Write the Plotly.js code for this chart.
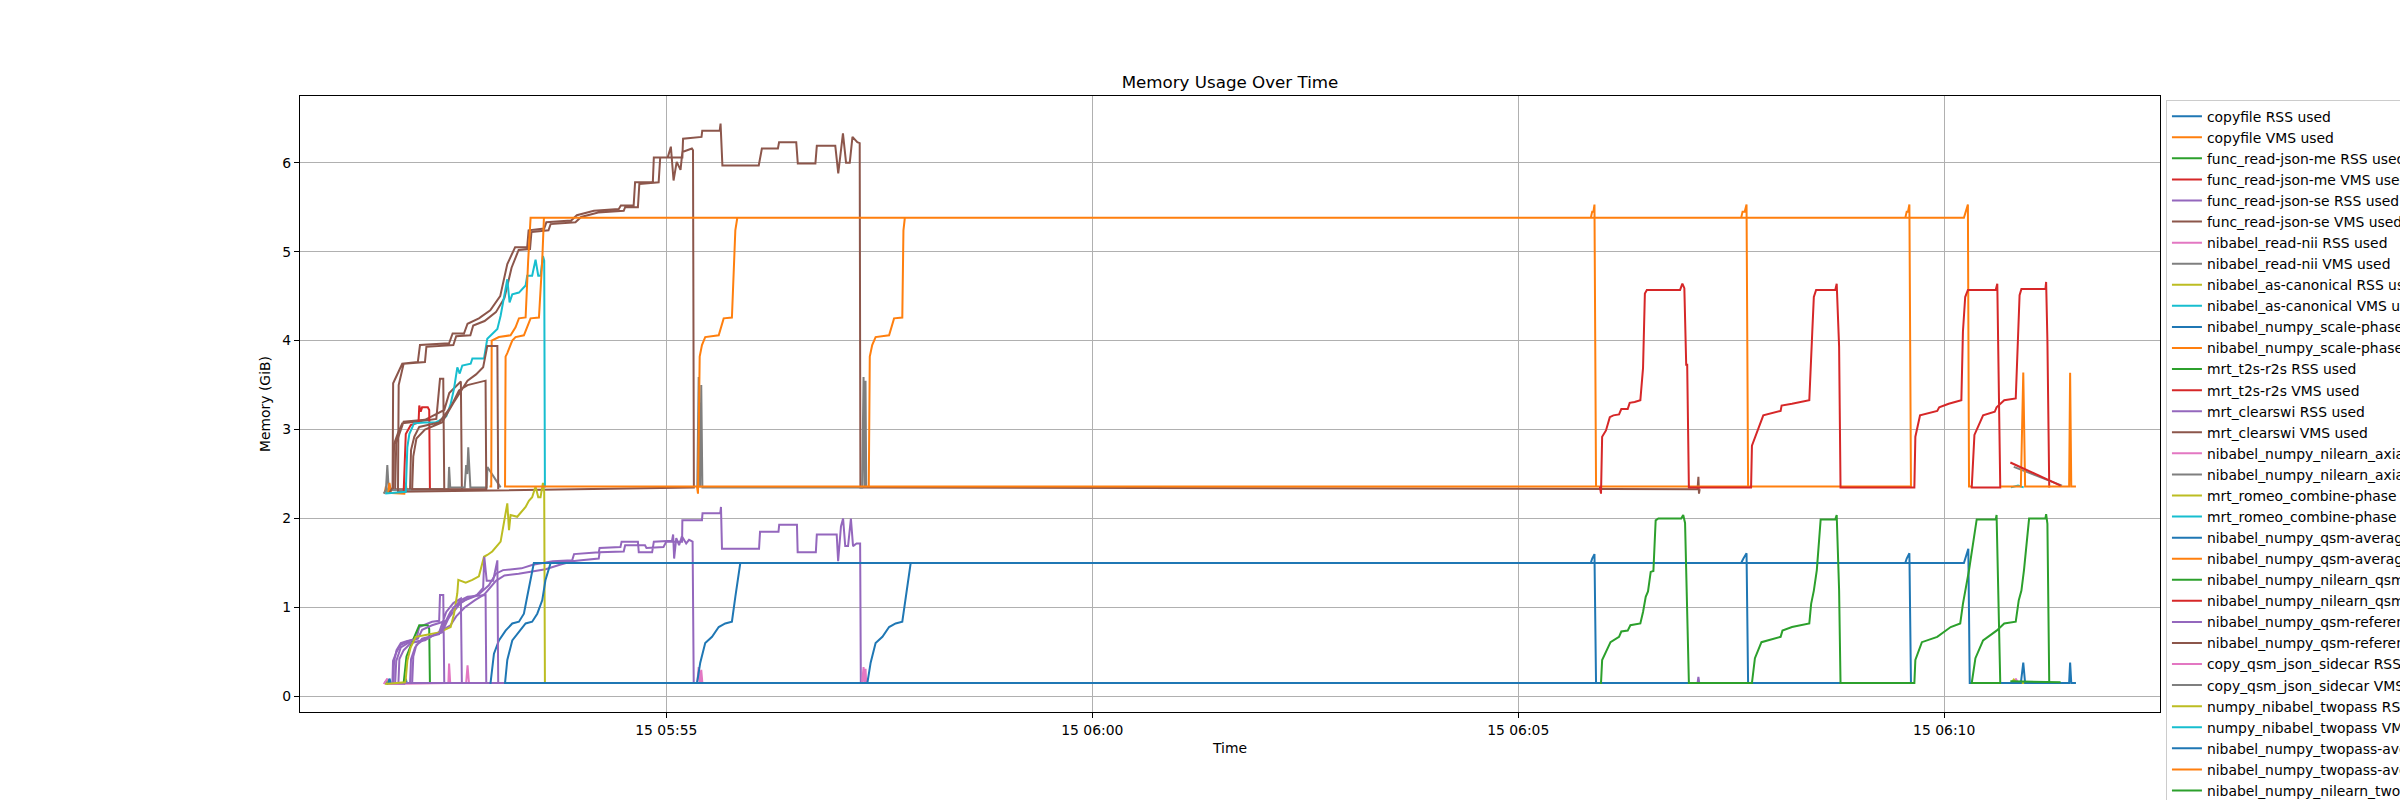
<!DOCTYPE html>
<html>
<head>
<meta charset="utf-8">
<script src="https://cdn.plot.ly/plotly-3.0.1.min.js"></script>
<style>
  html, body { margin: 0; padding: 0; background: #fff; }
  #chart { width: 2400px; height: 800px; }
</style>
</head>
<body>
<div id="chart"></div>
<script>
// all times are seconds after 05:50:00 on the 15th, values are GiB

const taskNames = [
    "copyfile", "func_read-json-me", "func_read-json-se", "nibabel_read-nii",
    "nibabel_as-canonical", "nibabel_numpy_scale-phase", "mrt_t2s-r2s", "mrt_clearswi",
    "nibabel_numpy_nilearn_axial-mips", "mrt_romeo_combine-phase", "nibabel_numpy_qsm-average",
    "nibabel_numpy_nilearn_qsm-mips", "nibabel_numpy_qsm-referencing", "copy_qsm_json_sidecar",
    "numpy_nibabel_twopass", "nibabel_numpy_twopass-average", "nibabel_numpy_nilearn_twopass-mips"
];

// copyfile
const copyfile_t = [101.5, 102.5, 103.5, 115.5, 116.5, 117.2];
const copyfile_rss = [0.14, 0.17, 0.14, 0.14, 0.2, 0.15];
const copyfile_vms = [2.28, 2.36, 2.29, 2.28, 2.4, 2.3];

// func_read-json-me
const jsonme_t = [104.0, 104.8, 105.6];
const jsonme_rss = [0.14, 0.19, 0.15];
const jsonme_vms = [2.29, 2.38, 2.3];

// func_read-json-se (two short runs)
const jsonse_rss_t = [107.5, 108.3, 110, 113, 117, 124, 126, 135, 140, 140.6, 142.9, 143.6,
    109, 109.8, 113, 118, 128, 140, 145, 150, 155.3, 156];
const jsonse_rss = [0.15, 0.4, 0.52, 0.6, 0.62, 0.65, 0.78, 0.84, 0.85, 1.14, 1.14, 0.15,
    0.15, 0.4, 0.55, 0.6, 0.63, 0.72, 0.95, 1.05, 1.1, 0.15];
const jsonse_vms_t = [107.5, 108.3, 111, 114, 125, 138, 140.6, 142.9, 143.6,
    109, 109.8, 115, 130, 143.6, 147.1, 151.8, 155.3, 156];
const jsonse_vms = [2.33, 2.84, 2.96, 3.07, 3.09, 3.12, 3.57, 3.57, 2.33,
    2.33, 2.85, 3.09, 3.11, 3.22, 3.41, 3.48, 3.54, 2.33];

// nibabel_read-nii
const readnii_rss_t = [101, 103.5, 104.5, 146.5, 147, 147.8, 159, 160, 161, 174, 184];
const readnii_rss = [0.14, 0.2, 0.14, 0.15, 0.37, 0.15, 0.15, 0.35, 0.15, 0.15, 0.15];
const readnii_vms_t = [101, 102.5, 103.5, 104.5, 146.5, 147, 147.8, 158, 159, 159.8, 160.5, 161.2, 162, 173.5, 174, 183.3];
const readnii_vms = [2.28, 2.32, 2.6, 2.32, 2.33, 2.58, 2.35, 2.35, 2.6, 2.5, 2.8, 2.55, 2.35, 2.35, 2.58, 2.35];

// nibabel_as-canonical
const canon_t = [103, 104.5, 105.5];
const canon_rss = [0.14, 0.18, 0.14];
const canon_vms = [2.28, 2.34, 2.29];

// nibabel_numpy_scale-phase
const scale_t = [104, 105, 106];
const scale_rss = [0.14, 0.2, 0.15];
const scale_vms = [2.28, 2.4, 2.3];

// mrt_t2s-r2s
const t2s_rss_t = [115, 117, 122, 126, 132, 133, 133.5];
const t2s_rss = [0.15, 0.45, 0.65, 0.8, 0.8, 0.76, 0.15];
const t2s_vms_t = [115, 116.5, 120, 125.5, 126, 127, 128, 132, 133, 133.5];
const t2s_vms = [2.3, 2.95, 3.05, 3.08, 3.27, 3.2, 3.25, 3.25, 3.22, 2.33];

// mrt_clearswi (two long runs, then a blip)
const clearswi_rss_t = [107.1, 107.5, 110, 113, 118, 125, 128, 135, 145, 150,
    155, 160, 168, 175, 180, 185, 198, 206, 220, 233.7,
    235, 252.4, 253, 267.7, 268.5, 280, 280.6, 290, 291.2, 304,
    304.8, 305.5, 307, 309, 311, 314, 316, 318.5, 319.3,
    111.3, 112, 115, 120, 130, 140, 148, 152, 158, 165,
    172, 180, 186, 196, 205, 215, 225, 233.7, 240, 252.4,
    253, 270, 271, 285, 286, 298, 300, 311.1, 311.3, 325.1,
    325.5, 338, 338.5, 339.2, 365.3, 366, 379, 379.5, 392, 392.5,
    405.3, 406, 420, 421, 423, 424.5, 426, 428, 430, 431.5,
    434, 436.5, 437,
    1026.3, 1026.9, 1027.5];
const clearswi_rss = [0.15, 0.4, 0.5, 0.58, 0.62, 0.65, 0.75, 0.8, 0.85, 0.95,
    1.05, 1.1, 1.15, 1.25, 1.38, 1.42, 1.44, 1.48, 1.52, 1.53,
    1.6, 1.62, 1.67, 1.68, 1.74, 1.74, 1.62, 1.62, 1.74, 1.75,
    1.82, 1.55, 1.78, 1.7, 1.8, 1.72, 1.76, 1.74, 0.15,
    0.15, 0.42, 0.52, 0.6, 0.63, 0.72, 0.8, 0.9, 1.0, 1.08,
    1.15, 1.3, 1.36, 1.38, 1.4, 1.43, 1.48, 1.52, 1.53, 1.55,
    1.62, 1.63, 1.7, 1.7, 1.67, 1.68, 1.74, 1.74, 1.98, 1.98,
    2.06, 2.06, 2.13, 1.66, 1.66, 1.85, 1.85, 1.93, 1.93, 1.62,
    1.62, 1.82, 1.82, 1.52, 1.91, 2.0, 1.69, 1.69, 2.0, 1.69,
    1.72, 1.72, 0.15,
    0.15, 0.22, 0.15];
const clearswi_vms_t = [105, 107.2, 107.6, 110, 114, 125, 126.5, 147, 149.5, 157.5,
    160, 168, 176, 183, 188, 193.5, 202, 203, 214, 215.5,
    233, 237, 249, 266.5, 268, 277, 278, 290.5, 291.2, 301,
    303.2, 305.1, 307.3, 310, 311.3, 318, 318.8, 319.4,
    111, 111.5, 115, 130, 131, 150, 152, 162, 164, 172,
    180, 186, 191, 196, 204, 205, 217, 218.5, 236, 240,
    252, 270, 271, 280, 281, 294.6, 295.7, 311.3, 311.8, 324.8,
    325.3, 337.6, 338.2, 339.5, 365.1, 367.3, 378.6, 379.4, 391.5, 392.6,
    405, 406, 419, 421.1, 424.4, 426.6, 429.2, 431.1, 434.5, 436.2,
    436.7,
    1026.3, 1026.9, 1027.3, 1027.8];
const clearswi_vms = [2.29, 2.35, 3.52, 3.6, 3.74, 3.76, 3.95, 3.97, 4.08, 4.08,
    4.19, 4.25, 4.34, 4.5, 4.86, 5.05, 5.05, 5.24, 5.26, 5.33,
    5.35, 5.41, 5.46, 5.48, 5.52, 5.52, 5.78, 5.78, 6.06, 6.06,
    6.18, 5.8, 6.01, 5.92, 6.12, 6.16, 6.14, 2.35,
    2.3, 3.5, 3.74, 3.76, 3.93, 3.95, 4.05, 4.06, 4.17, 4.22,
    4.32, 4.48, 4.82, 5.02, 5.03, 5.22, 5.24, 5.31, 5.33, 5.39,
    5.44, 5.46, 5.5, 5.5, 5.76, 5.78, 6.06, 6.06, 6.27, 6.29,
    6.36, 6.36, 6.44, 5.97, 5.97, 6.16, 6.16, 6.23, 6.23, 5.99,
    5.99, 6.19, 6.19, 5.88, 6.33, 6.0, 6.0, 6.29, 6.23, 6.22,
    2.35,
    2.33, 2.47, 2.28, 2.33];

// nibabel_numpy_nilearn_axial-mips
const axi_t = [321.8, 322.8, 323.8, 324.6, 325.4, 437.9, 438.9, 439.6, 440.3, 440.8];
const axi_rss = [0.15, 0.33, 0.15, 0.3, 0.15, 0.15, 0.33, 0.15, 0.31, 0.15];
const axi_vms = [2.35, 3.59, 2.35, 3.5, 2.35, 2.35, 3.59, 2.35, 3.55, 2.35];

// mrt_romeo_combine-phase
const romeo_rss_t = [102, 116, 116.4, 117.6, 119.9, 123.5, 130.5, 140, 148.1, 150.5,
    152.8, 153.5, 158.7, 163.4, 168, 171.6, 173.9, 177.4, 183.3, 186.8,
    188, 189.2, 190.3, 195, 200.9, 203.2, 205.5, 207.9, 209.8, 211.4,
    213.1, 214, 214.5];
const romeo_rss = [0.14, 0.16, 0.18, 0.4, 0.55, 0.67, 0.69, 0.72, 0.78, 0.93,
    1.16, 1.31, 1.28, 1.31, 1.35, 1.57, 1.59, 1.63, 1.74, 2.06,
    2.17, 1.87, 2.04, 2.02, 2.13, 2.2, 2.24, 2.36, 2.24, 2.24,
    2.4, 2.3, 0.15];
const romeo_vms_t = [102, 116.5, 117.6, 119, 122.3, 130, 137.5, 140, 145, 148,
    150.5, 152.8, 154.5, 156.3, 162.2, 163.4, 171.6, 173.9, 181, 183.3,
    185.6, 188, 189.6, 191.5, 196.2, 200.9, 202, 205.5, 207.9, 209.8,
    211.4, 213.1, 214, 214.5];
const romeo_vms = [2.28, 2.3, 2.8, 2.95, 3.07, 3.08, 3.08, 3.1, 3.15, 3.28,
    3.46, 3.7, 3.63, 3.72, 3.74, 3.8, 3.8, 4.02, 4.13, 4.28,
    4.48, 4.69, 4.43, 4.52, 4.54, 4.62, 4.73, 4.73, 4.91, 4.73,
    4.73, 4.95, 4.9, 2.35];

// nibabel_numpy_qsm-average (four overlapping runs)
const qavg_rss_t = [175.5, 176.2, 178.6, 182.1, 186.8, 191.5, 196.2, 199.7, 202.0, 204.4, 206.7, 951.1, 952.1, 953.7, 954.8,
    186.4, 188.0, 191.5, 196.2, 200.9, 205.5, 209.1, 212.6, 214.9, 218.5, 1057.0, 1058.6, 1060.8, 1061.9,
    321.6, 323.9, 327.4, 332.2, 336.9, 341.5, 346.2, 348.6, 351.0, 352.1, 1172.6, 1173.6, 1175.5, 1176.6,
    441.6, 443.9, 447.4, 452.2, 456.9, 461.5, 466.2, 468.6, 471.0, 472.1, 1213.9, 1215.9, 1217, 1218, 1219];
const qavg_rss = [0.15, 0.15, 0.48, 0.63, 0.74, 0.82, 0.84, 0.93, 1.12, 1.31, 1.5, 1.5, 1.55, 1.6, 0.15,
    0.15, 0.41, 0.63, 0.72, 0.82, 0.84, 0.93, 1.08, 1.31, 1.5, 1.5, 1.55, 1.61, 0.15,
    0.15, 0.38, 0.6, 0.67, 0.78, 0.82, 0.84, 1.12, 1.38, 1.5, 1.5, 1.55, 1.61, 0.15,
    0.15, 0.38, 0.6, 0.67, 0.78, 0.82, 0.84, 1.12, 1.38, 1.5, 1.5, 1.6, 1.66, 0.15, 0.15];
const qavg_vms_t = [175.5, 176.7, 177, 182.1, 190.3, 193.8, 196.2, 200.9, 202.7, 204.4, 951.1, 952.1, 953, 953.7, 954.8,
    186.4, 186.8, 188, 191.5, 193.8, 199.7, 202, 204.4, 210.3, 212.6, 213.8, 1057, 1058, 1059.5, 1060.8, 1061.9,
    321.6, 322.3, 323.5, 325.1, 327.4, 336.9, 340.4, 346.2, 348.6, 350, 1172.6, 1173.6, 1174.5, 1175.5, 1176.6,
    442.6, 443.3, 445, 447.4, 456.9, 460.4, 466.2, 467, 468, 1213.9, 1215, 1216.7, 1217.5, 1219];
const qavg_vms = [2.36, 2.36, 4.0, 4.04, 4.06, 4.15, 4.25, 4.26, 4.9, 5.38, 5.38, 5.45, 5.45, 5.53, 2.36,
    2.36, 3.82, 3.86, 4.0, 4.04, 4.06, 4.15, 4.25, 4.26, 4.9, 5.38, 5.38, 5.45, 5.45, 5.53, 2.36,
    2.36, 2.28, 3.82, 3.95, 4.04, 4.06, 4.25, 4.26, 5.24, 5.38, 5.38, 5.45, 5.45, 5.53, 2.36,
    2.36, 3.82, 3.95, 4.04, 4.06, 4.25, 4.26, 5.24, 5.38, 5.38, 5.45, 5.53, 2.36, 2.36];

// nibabel_numpy_nilearn_qsm-mips (four humps)
const qmip_rss_t = [957.5, 958.3, 959.1, 962.3, 965, 971, 972.6, 977.1, 979, 986, 987.9, 989.8, 991.4, 993.3, 995.2, 996.8, 998.7, 1014.8, 1016.2, 1017.5, 1018.9, 1020.2,
    1064, 1064.6, 1066.7, 1071.3, 1084.8, 1086.1, 1092.8, 1105, 1106.3, 1108.2, 1110.3, 1113, 1123.3, 1124.3, 1126, 1127,
    1179, 1179.7, 1184.3, 1195.1, 1204.6, 1211.3, 1213.2, 1214.8, 1217.5, 1222.9, 1236.3, 1236.9, 1238.2, 1239.5,
    1219.4, 1222, 1227.4, 1236.9, 1242.3, 1250.4, 1252.5, 1254.4, 1256.2, 1259.8, 1271.3, 1271.8, 1272.7, 1274];
const qmip_rss = [0.15, 0.15, 0.41, 0.52, 0.61, 0.67, 0.73, 0.74, 0.8, 0.82, 0.95, 1.12, 1.18, 1.4, 1.41, 1.98, 2.0, 2.0, 2.04, 1.95, 1.12, 0.15,
    0.15, 0.15, 0.43, 0.61, 0.67, 0.74, 0.78, 0.82, 1.04, 1.19, 1.42, 1.99, 1.99, 2.04, 1.19, 0.15,
    0.15, 0.41, 0.61, 0.67, 0.78, 0.82, 1.04, 1.19, 1.42, 1.99, 1.99, 2.04, 1.12, 0.15,
    0.15, 0.43, 0.63, 0.74, 0.82, 0.84, 1.08, 1.19, 1.42, 2.0, 2.0, 2.05, 1.94, 0.15];
const qmip_vms_t = [957.5, 958.3, 959.1, 961.8, 964.5, 967, 971, 972.6, 977.1, 978.5, 982, 986, 987.9, 989.2, 990.6, 1014, 1015.6, 1017, 1018.3, 1019, 1020.2,
    1064, 1064.6, 1067.3, 1072.6, 1084.8, 1085.5, 1092.8, 1105, 1107.1, 1108.2, 1109.8, 1123.3, 1124.3, 1126, 1127,
    1179, 1179.7, 1183, 1195.1, 1196.5, 1203.2, 1212.1, 1213.2, 1214.8, 1216.7, 1236.3, 1237.4, 1238.2, 1239.5,
    1219.4, 1221.3, 1227.4, 1235.6, 1236.9, 1242.3, 1250.4, 1251.7, 1253.1, 1254.4, 1271.3, 1271.8, 1272.7, 1274];
const qmip_vms = [2.36, 2.28, 2.92, 2.99, 3.14, 3.16, 3.17, 3.23, 3.23, 3.3, 3.31, 3.33, 3.69, 4.53, 4.57, 4.57, 4.64, 4.59, 3.73, 3.73, 2.35,
    2.35, 2.82, 2.94, 3.16, 3.21, 3.27, 3.29, 3.33, 4.1, 4.49, 4.57, 4.57, 4.64, 3.93, 2.35,
    2.35, 2.92, 3.16, 3.21, 3.25, 3.29, 3.33, 4.1, 4.49, 4.57, 4.57, 4.64, 3.73, 2.35,
    2.35, 2.94, 3.16, 3.2, 3.25, 3.33, 3.35, 3.84, 4.51, 4.58, 4.58, 4.66, 4.0, 2.35];

// nibabel_numpy_qsm-referencing (two short runs)
const qref_rss_t = [119.5, 120.2, 123, 128, 140, 148, 155, 160, 172.7, 173.2,
    121, 121.8, 124, 130, 142, 150, 158, 166, 171, 171.8, 173.5, 178, 181, 181.6];
const qref_rss = [0.15, 0.42, 0.55, 0.65, 0.7, 0.95, 1.08, 1.12, 1.14, 0.15,
    0.15, 0.45, 0.58, 0.65, 0.72, 1.0, 1.08, 1.13, 1.22, 1.57, 1.3, 1.3, 1.53, 0.15];
const qref_vms_t = [119.5, 120.2, 122.5, 126, 140, 148, 154, 160, 172.7, 173.2,
    121, 121.8, 124, 130, 142, 150, 160, 166, 171, 173.9, 181, 181.6];
const qref_vms = [2.33, 2.77, 2.92, 3.03, 3.08, 3.25, 3.44, 3.5, 3.55, 2.33,
    2.33, 2.7, 2.9, 3.0, 3.08, 3.3, 3.55, 3.62, 3.7, 3.94, 3.94, 2.33];

// copy_qsm_json_sidecar
const sidecar_rss_t = [1249, 1250.5, 1252, 1283];
const sidecar_rss = [0.15, 0.2, 0.15, 0.15];
const sidecar_vms_t = [1249, 1283];
const sidecar_vms = [2.58, 2.37];

// numpy_nibabel_twopass
const twopass_rss_t = [1247, 1249, 1251, 1262];
const twopass_rss = [0.15, 0.19, 0.15, 0.15];
const twopass_vms_t = [1247, 1252, 1256];
const twopass_vms = [2.35, 2.37, 2.35];

// nibabel_numpy_twopass-average
const tpavg_t = [1240, 1254, 1255.7, 1257, 1288, 1288.7, 1289.5, 1292.8];
const tpavg_rss = [0.15, 0.15, 0.38, 0.15, 0.15, 0.38, 0.15, 0.15];
const tpavg_vms = [2.36, 2.36, 3.64, 2.36, 2.36, 3.64, 2.36, 2.36];

// nibabel_numpy_nilearn_twopass-mips
const tpmip_t = [1246.6, 1282];
const tpmip_rss = [0.17, 0.16];
const tpmip_vms = [2.63, 2.37];

const tab10 = ["#1f77b4", "#ff7f0e", "#2ca02c", "#d62728", "#9467bd",
               "#8c564b", "#e377c2", "#7f7f7f", "#bcbd22", "#17becf"];

const series = [
    [copyfile_t, copyfile_rss], [copyfile_t, copyfile_vms],
    [jsonme_t, jsonme_rss], [jsonme_t, jsonme_vms],
    [jsonse_rss_t, jsonse_rss], [jsonse_vms_t, jsonse_vms],
    [readnii_rss_t, readnii_rss], [readnii_vms_t, readnii_vms],
    [canon_t, canon_rss], [canon_t, canon_vms],
    [scale_t, scale_rss], [scale_t, scale_vms],
    [t2s_rss_t, t2s_rss], [t2s_vms_t, t2s_vms],
    [clearswi_rss_t, clearswi_rss], [clearswi_vms_t, clearswi_vms],
    [axi_t, axi_rss], [axi_t, axi_vms],
    [romeo_rss_t, romeo_rss], [romeo_vms_t, romeo_vms],
    [qavg_rss_t, qavg_rss], [qavg_vms_t, qavg_vms],
    [qmip_rss_t, qmip_rss], [qmip_vms_t, qmip_vms],
    [qref_rss_t, qref_rss], [qref_vms_t, qref_vms],
    [sidecar_rss_t, sidecar_rss], [sidecar_vms_t, sidecar_vms],
    [twopass_rss_t, twopass_rss], [twopass_vms_t, twopass_vms],
    [tpavg_t, tpavg_rss], [tpavg_t, tpavg_vms],
    [tpmip_t, tpmip_rss], [tpmip_t, tpmip_vms],
];

const T0 = Date.UTC(2024, 0, 15, 5, 50, 0);
function toTime(s) {
    return new Date(T0 + s * 1000).toISOString().slice(0, 23).replace("T", " ");
}

const traces = series.map(([t, v], i) => ({
    x: t.map(toTime),
    y: v,
    name: taskNames[Math.floor(i / 2)] + (i % 2 ? " VMS used" : " RSS used"),
    type: "scatter",
    mode: "lines",
    line: {color: tab10[i % 10], width: 2},
}));

const axisStyle = {
    showline: true, mirror: true, linecolor: "black", linewidth: 1.1,
    ticks: "outside", ticklen: 5, tickwidth: 1.1, tickcolor: "black",
    showgrid: true, gridcolor: "#b0b0b0", gridwidth: 1.1,
    zeroline: false,
    tickfont: {size: 13.9},
};

const layout = {
    width: 2400, height: 800,
    margin: {l: 300, r: 240, t: 96, b: 88, autoexpand: false},
    paper_bgcolor: "white", plot_bgcolor: "white",
    font: {family: "DejaVu Sans, sans-serif", size: 13.9, color: "black"},
    title: {text: "Memory Usage Over Time", font: {size: 16.7},
            x: 0.5, xref: "paper", xanchor: "center",
            y: 1 - 82 / 800, yref: "container", yanchor: "middle"},
    xaxis: {
        ...axisStyle,
        type: "date",
        range: [toTime(42), toTime(1352)],
        tick0: toTime(300), dtick: 300000,
        tickformat: "%d %H:%M",
        title: {text: "Time", standoff: 6, font: {size: 13.9}},
    },
    yaxis: {
        ...axisStyle,
        range: [-0.175, 6.75],
        tick0: 0, dtick: 1,
        title: {text: "Memory (GiB)", standoff: 8, font: {size: 13.9}},
    },
    showlegend: true,
    legend: {
        x: 1.0032, xanchor: "left", y: 0.994, yanchor: "top",
        bgcolor: "rgba(255,255,255,0.8)", bordercolor: "#cccccc", borderwidth: 1,
        font: {size: 13.9}, tracegroupgap: 0, maxheight: 1200,
    },
};

Plotly.newPlot("chart", traces, layout, {displayModeBar: false, staticPlot: true});
</script>
</body>
</html>
